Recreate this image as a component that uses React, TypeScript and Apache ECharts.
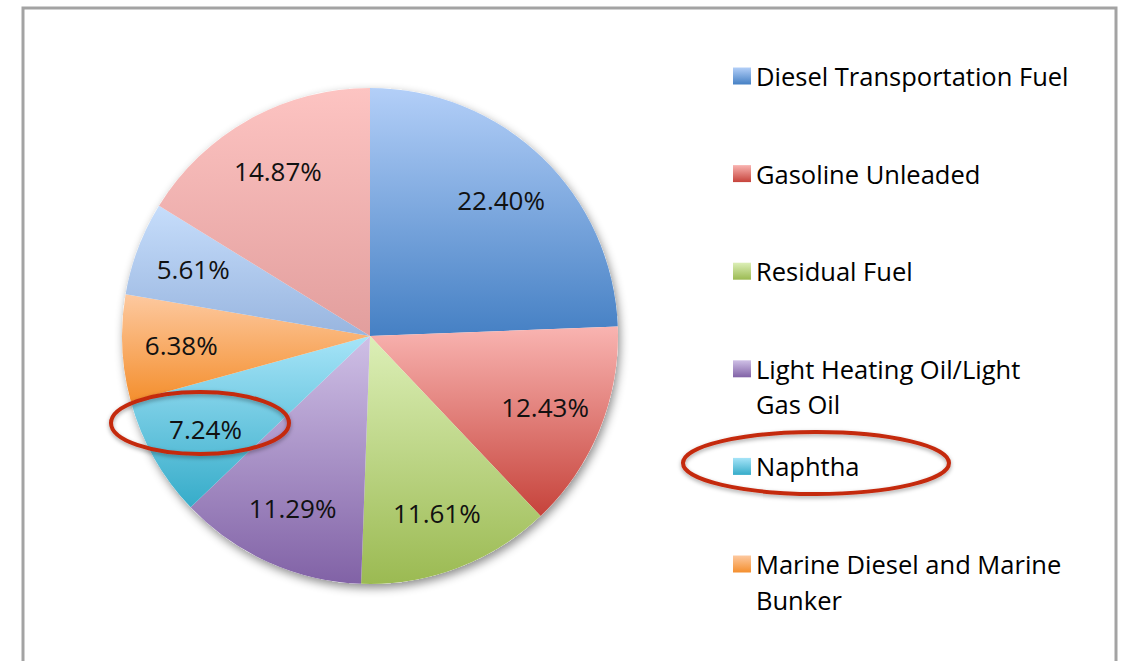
import React, { useEffect, useRef } from "react";
import * as echarts from "echarts";

// ---- data ----
const categories = [
  "Diesel Transportation Fuel",
  "Gasoline Unleaded",
  "Residual Fuel",
  "Light Heating Oil/Light Gas Oil",
  "Naphtha",
  "Marine Diesel and Marine Bunker",
  "Other Fuel A",
  "Other Fuel B",
];
const shares = [22.4, 12.43, 11.61, 11.29, 7.24, 6.38, 5.61, 14.87];
const legendNames = categories.slice(0, 6);
// legend labels as wrapped in the picture (first line, continuation)
const legendFirstLines = [
  "Diesel Transportation Fuel",
  "Gasoline Unleaded",
  "Residual Fuel",
  "Light Heating Oil/Light",
  "Naphtha",
  "Marine Diesel and Marine",
];
const legendSecondLines = ["", "", "", "Gas Oil", "", "Bunker"];
const gradientTop = ["#b3cff8", "#f9b4b1", "#dcefb7", "#cfc0e6", "#a6e4f8", "#fdc9a0", "#c6ddfb", "#fdc4c2"];
const gradientBottom = ["#4580c4", "#c6433b", "#9bba52", "#8162a6", "#36acc9", "#f48f2e", "#98b5df", "#e29e9d"];

const FONT = "'Open Sans', 'Noto Sans', sans-serif";

function grad(i: number) {
  return new echarts.graphic.LinearGradient(0, 0, 0, 1, [
    { offset: 0, color: gradientTop[i] },
    { offset: 1, color: gradientBottom[i] },
  ]);
}

export default function App() {
  const ref = useRef<HTMLDivElement>(null);
  useEffect(() => {
    if (!ref.current) return;
    const chart = echarts.init(ref.current, undefined, { renderer: "svg" });
    const center = [370, 336];
    const R = 248;
    const legendLeft = 733;
    const legendTop0 = 63;
    const legendStep = 97.6;
    const iconW = 18;
    const iconH = 17;
    const legendFont = 25.5;

    const pieData = categories.map((name, i) => ({
      name,
      value: shares[i],
      itemStyle: { color: grad(i) },
    }));
    const legends = legendNames.map((name, i) => ({
      left: legendLeft,
      top: legendTop0 + i * legendStep,
      orient: "vertical",
      padding: 0,
      icon: "rect",
      itemWidth: iconW,
      itemHeight: iconH,
      selectedMode: false,
      data: [name],
      formatter: () => legendFirstLines[i],
      textStyle: { fontFamily: FONT, fontSize: legendFont, color: "#000" },
    }));
    const continuation = legendSecondLines
      .map((t, i) =>
        t
          ? {
              type: "text",
              z: 60,
              x: legendLeft + iconW + 5,
              y: legendTop0 + i * legendStep + iconH / 2 + 40,
              style: {
                text: t,
                fontFamily: FONT,
                fontSize: legendFont,
                fill: "#000",
                verticalAlign: "middle",
                align: "left",
              },
            }
          : null
      )
      .filter(Boolean);

    chart.setOption({
      animation: false,
      backgroundColor: "#fff",
      legend: legends,
      series: [
        {
          type: "pie",
          name: "shadow",
          center,
          radius: R,
          silent: true,
          z: 1,
          label: { show: false },
          labelLine: { show: false },
          itemStyle: {
            color: "#fff",
            shadowBlur: 10,
            shadowOffsetX: 2,
            shadowOffsetY: 4,
            shadowColor: "rgba(0,0,0,0.45)",
          },
          data: [{ name: "", value: 1 }],
        },
        {
          type: "pie",
          name: "Fuel share",
          center,
          radius: R,
          startAngle: 90,
          clockwise: true,
          z: 2,
          label: { show: false },
          labelLine: { show: false },
          emphasis: { disabled: true },
          data: pieData,
        },
        {
          type: "pie",
          name: "labels",
          center,
          radius: [R / 2, R],
          startAngle: 90,
          clockwise: true,
          silent: true,
          z: 3,
          itemStyle: { color: "rgba(0,0,0,0)" },
          label: {
            show: true,
            position: "inside",
            fontFamily: FONT,
            fontSize: 26,
            color: "#111",
            formatter: (p: any) => Number(p.value).toFixed(2) + "%",
          },
          labelLine: { show: false },
          emphasis: { disabled: true },
          data: categories.map((name, i) => ({ name: name + " ", value: shares[i] })),
        },
      ],
      graphic: [
        ...continuation,
        {
          type: "polyline",
          z: 50,
          shape: { points: [[23, 661], [23, 8], [1116, 8], [1116, 661]] },
          style: { stroke: "#a3a3a3", lineWidth: 3, fill: "none" },
        },
        {
          type: "ellipse",
          z: 100,
          shape: { cx: 200, cy: 423, rx: 89, ry: 31 },
          style: {
            fill: "none",
            stroke: "#c4290f",
            lineWidth: 4,
            shadowBlur: 4,
            shadowOffsetY: 2,
            shadowColor: "rgba(0,0,0,0.35)",
          },
        },
        {
          type: "ellipse",
          z: 100,
          shape: { cx: 816, cy: 463, rx: 133, ry: 31 },
          style: {
            fill: "none",
            stroke: "#c4290f",
            lineWidth: 4,
            shadowBlur: 4,
            shadowOffsetY: 2,
            shadowColor: "rgba(0,0,0,0.35)",
          },
        },
      ],
    });
    return () => chart.dispose();
  }, []);
  return (
    <div
      ref={ref}
      style={{ position: "absolute", left: 0, top: 0, width: 1124, height: 661 }}
    />
  );
}
